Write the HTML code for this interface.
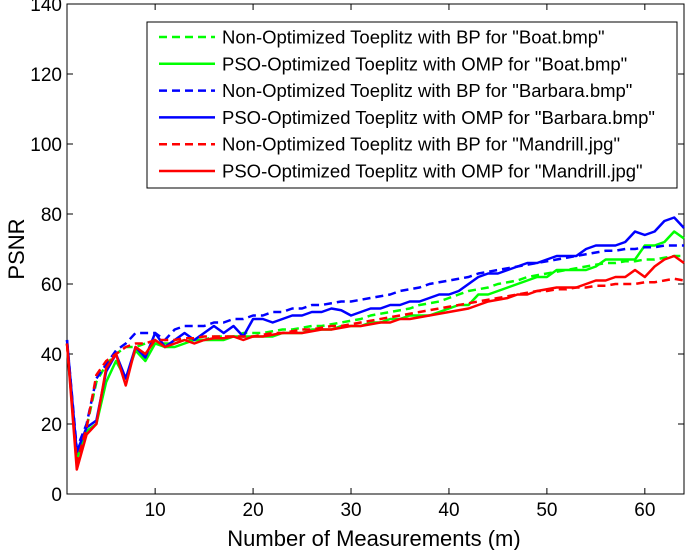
<!DOCTYPE html>
<html><head><meta charset="utf-8"><style>
body{margin:0;background:#fff;}
svg text{font-family:"Liberation Sans",Arial,sans-serif;fill:#000;}
</style></head><body>
<svg id="chart" width="685" height="550"></svg>
<script>
const xValues = Array.from({length:64},(_,i)=>i+1);
const yTicks = [0,20,40,60,80,100,120,140];
const xTicks = [10,20,30,40,50,60];
const boatBP = [43,11,19,32,37,40,42,42,43,43,43,43,44,44,44,45,45,45,46,46,46,46.5,47,47,47.5,48,48,48.5,49,49.5,50,51,51.5,52,52.5,53,54,54.5,55,56,57,58,58.5,59,60,60.5,61,62,62.5,63,63.5,64,64.5,65,65.5,66,66,66.5,66.5,67,67,67.5,68,68];
const boatPSO = [43,10,18,20,32,38,33,41,38,43,42,42,43,44,44,44,44,45,45,45,45,45,46,46,46,47,47,47,48,48,48,49,49,50,50,51,51,51,52,53,54,54,57,57,58,59,60,61,62,62,64,64,64,64,65,67,67,67,67,71,71,72,75,73];
const barbBP = [44,13,20,33,37,41,43,46,46,46,44,47,48,48,48,49,49,50,50,51,51,52,52,53,53,54,54,54.5,55,55,55.5,56,56.5,57,58,58.5,59,60,60.5,61,61.5,62,63,63.5,64,64.5,65,65.5,66,66.5,67,67.5,68,68.5,69,69.5,69.5,70,70,70.5,70.5,71,71,71];
const barbPSO = [44,12,19,21,35,40,33,42,39,46,42,44,46,44,46,48,46,48,45,50,50,49,50,51,51,52,52,53,52.5,51,52,53,53,54,54,55,55,56,57,57,58,60,62,63,63,64,65,66,66,67,68,68,68,70,71,71,71,72,75,74,75,78,79,76];
const mandBP = [43,9,19,34,38,40,42,43,43,44,44,44,44.5,44.5,45,45,45,45,45,45,45.5,46,46,46.5,47,47,47.5,48,48,48.5,49,49.5,50,50.5,51,51.5,52,52.5,53,53.5,54,54.5,55,55.5,56,56.5,57,57.5,58,58,58.5,58.5,59,59,59.5,59.5,60,60,60,60.5,60.5,61,61.5,61];
const mandPSO = [43,7,17,20,36,40,31,42,40,44,42,43,44,43,44,44.5,44.5,45,44,45,45,45.5,46,46,46,46.5,47,47,47.5,48,48,48.5,49,49,50,50,50.5,51,51.5,52,52.5,53,54,55,55.5,56,57,57,58,58.5,59,59,59,60,61,61,62,62,64,62,65,67,68,66];
const legendLabels = ['Non-Optimized Toeplitz with BP for "Boat.bmp"','PSO-Optimized Toeplitz with OMP for "Boat.bmp"','Non-Optimized Toeplitz with BP for "Barbara.bmp"','PSO-Optimized Toeplitz with OMP for "Barbara.bmp"','Non-Optimized Toeplitz with BP for "Mandrill.jpg"','PSO-Optimized Toeplitz with OMP for "Mandrill.jpg"'];

const svg=document.getElementById('chart');
const NS='http://www.w3.org/2000/svg';
const L=67,R=684,T=4,B=494,xMin=1,xMax=64,yMax=140;
const X=v=>L+(v-xMin)/(xMax-xMin)*(R-L);
const Y=v=>B-v/yMax*(B-T);
function mk(tag,attrs,parent){const e=document.createElementNS(NS,tag);for(const k in attrs)e.setAttribute(k,attrs[k]);(parent||svg).appendChild(e);return e;}

const axes=mk('rect',{x:L,y:T,width:R-L,height:B-T,fill:'none',stroke:'#000','stroke-width':1});


yTicks.forEach(t=>{
  const y=Y(t);
  mk('line',{x1:L,x2:L+6,y1:y,y2:y,stroke:'#000'});
  mk('line',{x1:R,x2:R-6,y1:y,y2:y,stroke:'#000'});
  const tx=mk('text',{x:L-5,y:y+7,'text-anchor':'end','font-size':19});
  tx.textContent=t;
  
  
});
xTicks.forEach(t=>{
  const x=X(t);
  mk('line',{x1:x,x2:x,y1:B,y2:B-6,stroke:'#000'});
  mk('line',{x1:x,x2:x,y1:T,y2:T+6,stroke:'#000'});
  const tx=mk('text',{x:x,y:B+22,'text-anchor':'middle','font-size':19});
  tx.textContent=t;
  
  
});
const xt=mk('text',{x:374,y:546,'text-anchor':'middle','font-size':22});
xt.textContent='Number of Measurements (m)';


const yt=mk('text',{x:24,y:(T+B)/2,'text-anchor':'middle','font-size':22,transform:`rotate(-90 24 ${(T+B)/2})`});
yt.textContent='PSNR';



const series=[[boatBP,'#00ff00',true,'boat-bp-line'],[boatPSO,'#00ff00',false,'boat-pso-line'],[barbBP,'#0000ff',true,'barbara-bp-line'],[barbPSO,'#0000ff',false,'barbara-pso-line'],[mandBP,'#ff0000',true,'mandrill-bp-line'],[mandPSO,'#ff0000',false,'mandrill-pso-line']];
series.forEach(([d,c,dash,name])=>{
  const p=mk('polyline',{points:d.map((v,i)=>X(xValues[i])+','+Y(v)).join(' '),fill:'none',stroke:c,'stroke-width':2.5,'stroke-dasharray':dash?'8,5':'none','stroke-linejoin':'round'});
  
  
});

const lg=mk('g',{});


mk('rect',{x:147,y:22,width:530,height:166,fill:'#fff',stroke:'#000'},lg);
series.forEach(([d,c,dash,name],i)=>{
  const y=37+i*26.8;
  mk('line',{x1:159,x2:215,y1:y,y2:y,stroke:c,'stroke-width':2.5,'stroke-dasharray':dash?'8,5':'none'},lg);
  const t=mk('text',{x:222,y:y+6.5,'font-size':18.5},lg);
  t.textContent=legendLabels[i];
  
  
});
</script>
</body></html>
